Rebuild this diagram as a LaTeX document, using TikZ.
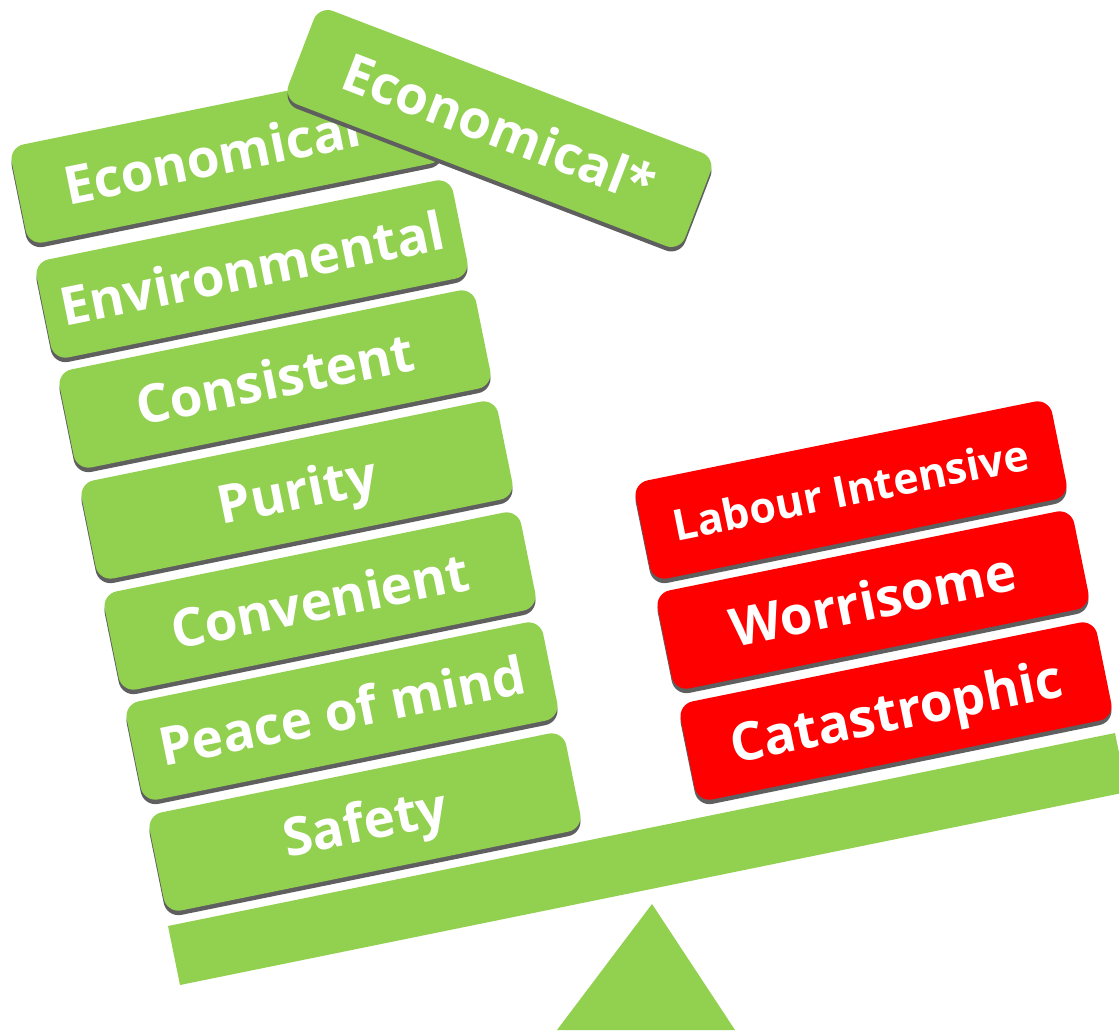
\documentclass[tikz,border=0pt]{standalone}
\usepackage{fontspec}
\setmainfont{Open Sans}
\definecolor{blockgreen}{HTML}{92D050}
\definecolor{blockred}{HTML}{FF0000}
\definecolor{shadowgray}{HTML}{5F5F5F}
\tikzset{
  block/.style={rounded corners=15pt, minimum width=425pt, minimum height=100pt,
    inner sep=0pt, text=white, font=\bfseries\fontsize{53}{60}\selectfont,
    text height=38pt, text depth=0pt,
    preaction={fill=shadowgray, transform canvas={yshift=-4.5pt}}},
  gblock/.style={block, fill=blockgreen, rotate=11.5},
  rblock/.style={block, fill=blockred, rotate=11.5},
  smalltext/.style={font=\bfseries\fontsize{43}{50}\selectfont, text height=31pt},
  beamfill/.style={fill=blockgreen}
}
\begin{document}
\begin{tikzpicture}[x=1pt,y=-1pt]
\useasboundingbox (0,0) rectangle (1119,1031);
\clip (0,0) rectangle (1119,1031);
% beam and fulcrum
\coordinate (b1) at (168,926);
\coordinate (b2) at (180,985);
\coordinate (b3) at (1127,792);
\coordinate (b4) at (1115,733);
\fill[beamfill] (b1) -- (b2) -- (b3) -- (b4) -- cycle;
\coordinate (t1) at (652,904);
\coordinate (t2) at (557,1030);
\coordinate (t3) at (735,1030);
\fill[beamfill] (t1) -- (t2) -- (t3) -- cycle;
% left stack
\node[gblock] (econ) at (227,154) {Economical\hspace*{30pt}};
\node[gblock, rotate=-32.5] (econstar) at (499.5,128.5) {Economical*};
\node[gblock] (env) at (252,269) {Environmental};
\node[gblock] (cons) at (275,379) {Consistent};
\node[gblock] (pur) at (297,490) {Purity};
\node[gblock] (conv) at (320,601) {Convenient};
\node[gblock] (peace) at (342,711) {Peace of mind};
\node[gblock] (safe) at (365,822) {Safety};
% right stack
\node[rblock, smalltext] (labour) at (851,490) {Labour Intensive};
\node[rblock] (worry) at (873,600) {Worrisome};
\node[rblock] (cat) at (896,711) {Catastrophic};
\end{tikzpicture}
\end{document}
